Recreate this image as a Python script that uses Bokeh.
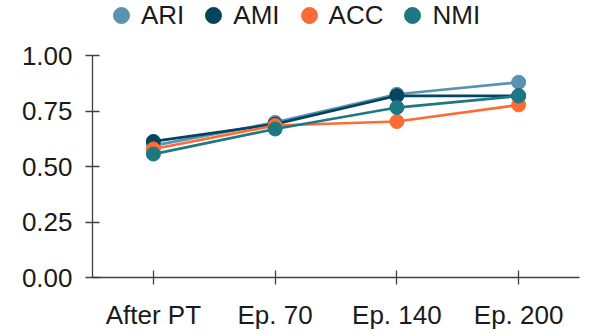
from bokeh.plotting import figure
from bokeh.models import Range1d, FixedTicker, Legend, LegendItem, NumeralTickFormatter
from bokeh.embed import file_html
from bokeh.resources import INLINE

categories = ["After PT", "Ep. 70", "Ep. 140", "Ep. 200"]
ari = [0.595, 0.700, 0.827, 0.881]
ami = [0.614, 0.692, 0.820, 0.820]
acc = [0.580, 0.686, 0.704, 0.779]
nmi = [0.557, 0.670, 0.767, 0.819]
y_ticks = [0.0, 0.25, 0.5, 0.75, 1.0]

series = [
    ("ARI", ari, "#5A93B1"),
    ("AMI", ami, "#03445F"),
    ("ACC", acc, "#FF6B35"),
    ("NMI", nmi, "#1D7884"),
]

FONT = "Liberation Sans"
xs = list(range(len(categories)))

p = figure(width=598, height=332, output_backend="svg", toolbar_location=None,
           x_range=Range1d(-0.5, len(categories) - 0.5), y_range=Range1d(0, 1.25),
           min_border_left=92, min_border_right=19, min_border_top=0, min_border_bottom=54)
p.outline_line_color = None
p.xgrid.grid_line_color = None
p.ygrid.grid_line_color = None
p.background_fill_color = "white"
p.border_fill_color = "white"

items = []
for name, vals, col in series:
    p.line(xs, vals, line_color=col, line_width=2.7)
    r = p.scatter(xs, vals, size=14, fill_color=col, line_color=col)
    items.append(LegendItem(label=name, renderers=[r]))

for ax in (p.xaxis[0], p.yaxis[0]):
    ax.axis_line_color = "#404040"
    ax.axis_line_width = 1.3
    ax.major_tick_line_color = "#404040"
    ax.major_tick_line_width = 1.3
    ax.major_tick_in = 7
    ax.major_tick_out = 7
    ax.minor_tick_line_color = None
    ax.major_label_text_font = FONT
    ax.major_label_text_font_size = "26px"
    ax.major_label_text_color = "#1a1a1a"

p.xaxis.ticker = FixedTicker(ticks=xs)
p.xaxis.major_label_overrides = {i: c for i, c in enumerate(categories)}
p.xaxis.major_label_standoff = 15
p.yaxis.ticker = FixedTicker(ticks=y_ticks)
p.yaxis.formatter = NumeralTickFormatter(format="0.00")
p.yaxis.major_label_standoff = 13
p.yaxis.bounds = (0, 1)

legend = Legend(items=items, orientation="horizontal", location=(9, 242),
                glyph_width=40, glyph_height=40, label_standoff=0, spacing=9,
                padding=0, margin=0, border_line_color=None, background_fill_alpha=0,
                label_text_font=FONT, label_text_font_size="26px", label_text_color="#1a1a1a")
p.add_layout(legend, "center")

open("out.html", "w").write(file_html(p, INLINE))
